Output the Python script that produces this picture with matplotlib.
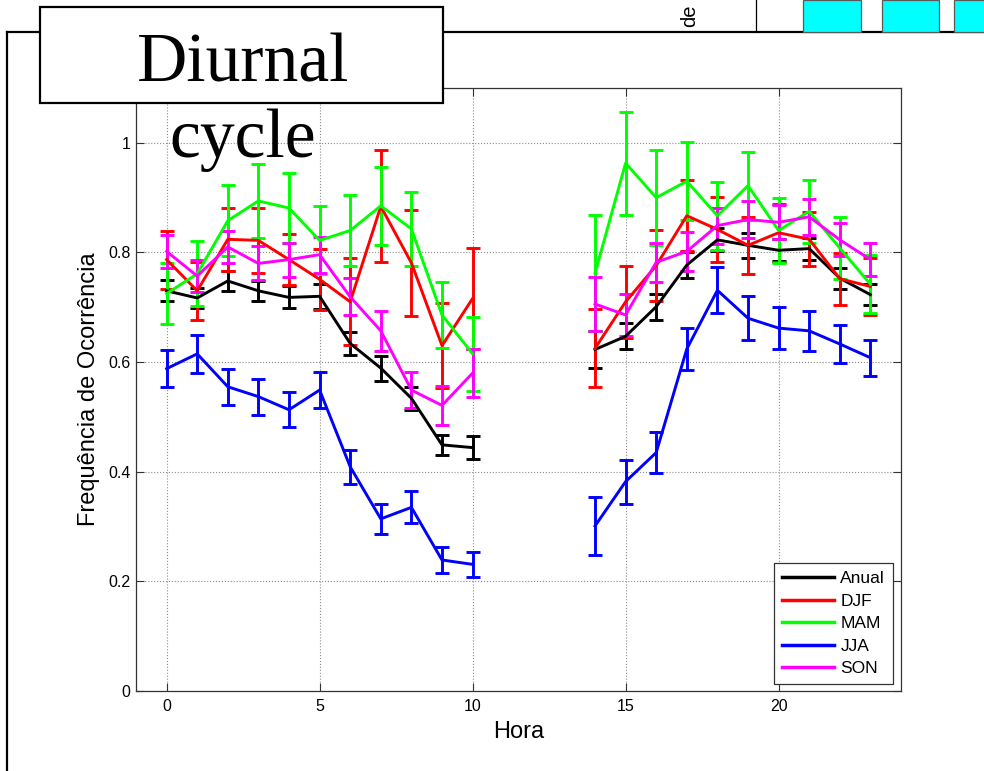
import numpy as np
import matplotlib
matplotlib.use("Agg")
import matplotlib.pyplot as plt
from matplotlib.patches import Rectangle
from matplotlib.lines import Line2D

plt.rcParams['font.family'] = ['Liberation Sans', 'DejaVu Sans']

nan = np.nan

# Hour of day (no observations between 11h and 13h)
hours = list(range(24))

anual = [0.730, 0.717, 0.748, 0.730, 0.718, 0.720, 0.634, 0.589, 0.534, 0.449, 0.444,
         nan, nan, nan,
         0.623, 0.647, 0.701, 0.777, 0.823, 0.813, 0.804, 0.807, 0.753, 0.723]
anual_err = [0.019, 0.018, 0.018, 0.018, 0.020, 0.023, 0.021, 0.023, 0.021, 0.018, 0.021,
             nan, nan, nan,
             0.033, 0.024, 0.024, 0.024, 0.021, 0.023, 0.020, 0.020, 0.019, 0.019]

djf = [0.787, 0.730, 0.824, 0.822, 0.787, 0.751, 0.710, 0.884, 0.781, 0.630, 0.716,
       nan, nan, nan,
       0.625, 0.710, 0.776, 0.867, 0.842, 0.813, 0.836, 0.824, 0.752, 0.738]
djf_err = [0.053, 0.053, 0.058, 0.059, 0.047, 0.056, 0.079, 0.102, 0.097, 0.078, 0.093,
           nan, nan, nan,
           0.071, 0.066, 0.065, 0.065, 0.059, 0.052, 0.053, 0.049, 0.047, 0.052]

mam = [0.725, 0.761, 0.858, 0.894, 0.881, 0.822, 0.840, 0.885, 0.843, 0.686, 0.615,
       nan, nan, nan,
       0.762, 0.963, 0.900, 0.930, 0.867, 0.922, 0.840, 0.875, 0.808, 0.742]
mam_err = [0.055, 0.059, 0.065, 0.068, 0.064, 0.062, 0.065, 0.071, 0.068, 0.061, 0.067,
           nan, nan, nan,
           0.106, 0.094, 0.086, 0.071, 0.062, 0.062, 0.059, 0.057, 0.057, 0.053]

jja = [0.588, 0.615, 0.555, 0.537, 0.513, 0.549, 0.409, 0.314, 0.335, 0.239, 0.231,
       nan, nan, nan,
       0.301, 0.382, 0.435, 0.624, 0.731, 0.680, 0.662, 0.657, 0.633, 0.608]
jja_err = [0.034, 0.034, 0.033, 0.033, 0.032, 0.033, 0.031, 0.028, 0.029, 0.023, 0.023,
           nan, nan, nan,
           0.053, 0.040, 0.037, 0.038, 0.042, 0.040, 0.038, 0.037, 0.034, 0.033]

son = [0.802, 0.757, 0.810, 0.780, 0.787, 0.796, 0.719, 0.657, 0.549, 0.521, 0.580,
       nan, nan, nan,
       0.706, 0.686, 0.782, 0.802, 0.849, 0.860, 0.855, 0.865, 0.823, 0.787]
son_err = [0.030, 0.030, 0.030, 0.031, 0.031, 0.033, 0.034, 0.036, 0.033, 0.036, 0.043,
           nan, nan, nan,
           0.049, 0.039, 0.036, 0.036, 0.033, 0.033, 0.031, 0.033, 0.030, 0.030]

series_names = ['Anual', 'DJF', 'MAM', 'JJA', 'SON']
series_colors = ['#000000', '#ff0000', '#00ff00', '#0000ff', '#ff00ff']
series_values = [anual, djf, mam, jja, son]
series_errors = [anual_err, djf_err, mam_err, jja_err, son_err]

x_ticks = [0, 5, 10, 15, 20]
y_ticks = [0, 0.2, 0.4, 0.6, 0.8, 1.0]
y_tick_labels = ['0', '0.2', '0.4', '0.6', '0.8', '1']

W, H = 984, 771
fig = plt.figure(figsize=(W / 100, H / 100), dpi=100)
fig.patch.set_facecolor('white')

ax = fig.add_axes([136 / W, 1 - 691 / H, (901 - 136) / W, (691 - 88) / H])

for vals, errs, col in zip(series_values, series_errors, series_colors):
    ax.errorbar(hours, vals, yerr=errs, color=col, lw=2.1, elinewidth=2.1,
                capsize=5, capthick=2.1)

ax.set_xlim(-1, 24)
ax.set_ylim(0, 1.1)
ax.set_xticks(x_ticks)
ax.set_yticks(y_ticks)
ax.set_yticklabels(y_tick_labels)
ax.tick_params(direction='in', top=True, right=True, length=6, width=0.8,
               labelsize=11.5, color='0.2')
ax.tick_params(axis='x', pad=6)
ax.tick_params(axis='y', pad=4)
for sp in ax.spines.values():
    sp.set_color('0.2')
    sp.set_linewidth(0.9)
ax.grid(True, linestyle=':', color='0.55', linewidth=0.8)

ax.set_xlabel('Hora', fontsize=17)
ax.set_ylabel('Frequência de Ocorrência', fontsize=17)
ax.xaxis.set_label_coords(0.5, (691 - 721) / 603)
ax.yaxis.set_label_coords((100 - 136) / 765, 0.5)

handles = [Line2D([], [], color=c, lw=2.5) for c in series_colors]
leg = ax.legend(handles, series_names, loc='lower right',
                bbox_to_anchor=((893 - 136) / 765, (691 - 684) / 603),
                borderaxespad=0, fontsize=12.5, handlelength=3.0,
                handletextpad=0.35, labelspacing=0.42, borderpad=0.45,
                fancybox=False, framealpha=1)
leg.get_frame().set_edgecolor('0.2')
leg.get_frame().set_linewidth(0.9)

# Slide frame lines
fig.add_artist(Line2D([7 / W, 7 / W], [0, 1 - 32 / H], transform=fig.transFigure,
                      color='black', lw=1.6, zorder=5))
fig.add_artist(Line2D([7 / W, 1], [1 - 32 / H, 1 - 32 / H], transform=fig.transFigure,
                      color='black', lw=1.6, zorder=5))
fig.add_artist(Line2D([756 / W, 756 / W], [1 - 32 / H, 1], transform=fig.transFigure,
                      color='black', lw=0.9, zorder=5))
for x0, x1 in [(803, 861), (882, 939), (954, 995)]:
    fig.add_artist(Rectangle((x0 / W, 1 - 32 / H), (x1 - x0) / W, 32 / H,
                             transform=fig.transFigure, facecolor='#00ffff',
                             edgecolor='0.35', lw=0.9, zorder=5))
fig.text(690 / W, 1 - 16 / H, 'de', rotation=90, ha='center', va='center',
         fontsize=14.5, zorder=6)

# Title box
fig.add_artist(Rectangle((40 / W, 1 - 103 / H), (443 - 40) / W, (103 - 7) / H,
                         transform=fig.transFigure, facecolor='white',
                         edgecolor='black', lw=1.6, zorder=10))
fig.text(243 / W, 1 - 82 / H, 'Diurnal', ha='center', va='baseline',
         fontsize=50, family=['Liberation Serif', 'DejaVu Serif'], zorder=11)
fig.text(243 / W, 1 - 157 / H, 'cycle', ha='center', va='baseline',
         fontsize=50, family=['Liberation Serif', 'DejaVu Serif'], zorder=11)

fig.savefig('out.png', dpi=100, facecolor='white')
